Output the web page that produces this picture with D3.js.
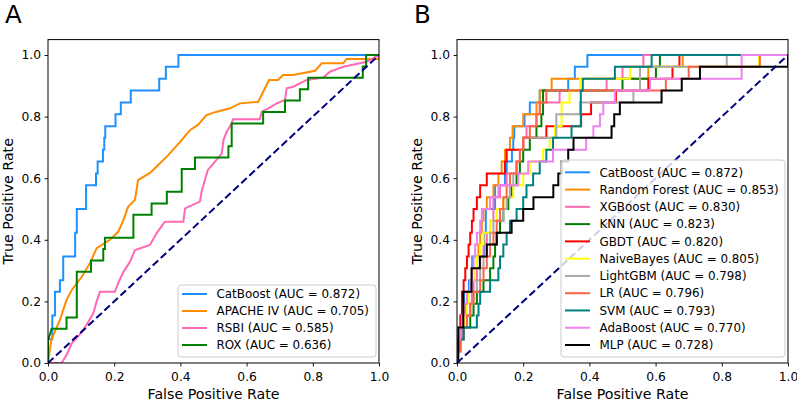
<!DOCTYPE html>
<html><head><meta charset="utf-8">
<script src="https://cdn.jsdelivr.net/npm/d3@7/dist/d3.min.js"></script>
<style>body{margin:0;background:#fff} svg{display:block} text{font-family:"DejaVu Sans",sans-serif;fill:#000}</style>
</head><body><svg id="c" width="797" height="401"></svg>
<script>
// ---------- data ----------
const tickValues = [0, 0.2, 0.4, 0.6, 0.8, 1.0];
const tickLabels = ["0.0", "0.2", "0.4", "0.6", "0.8", "1.0"];
const xLabel = "False Positive Rate";
const yLabel = "True Positive Rate";

// TPR levels of the step curves (26 positives)
const tprLevels = [0.038,0.077,0.115,0.154,0.192,0.231,0.269,0.308,0.346,0.385,0.423,0.462,0.5,
  0.538,0.577,0.615,0.654,0.692,0.731,0.769,0.808,0.846,0.885,0.923,0.962,1.0];

// FPR at which each TPR level is reached
const catboostFpr = [0,0,0.013,0.013,0.021,0.021,0.036,0.046,0.046,0.082,0.082,0.087,0.087,0.115,0.115,0.145,0.15,0.166,0.17,0.173,0.204,0.22,0.25,0.336,0.356,0.394];
const rfFpr   = [0,0.005,0.01,0.02,0.025,0.03,0.04,0.05,0.06,0.065,0.07,0.075,0.08,0.09,0.11,0.125,0.135,0.145,0.16,0.168,0.2,0.24,0.25,0.286,0.578,0.682];
const xgbFpr  = [0,0.01,0.02,0.03,0.04,0.045,0.05,0.06,0.07,0.08,0.09,0.1,0.11,0.11,0.13,0.15,0.18,0.19,0.2,0.21,0.24,0.25,0.31,0.452,0.5,0.563];
const knnFpr  = [0,0.01,0.02,0.04,0.05,0.06,0.08,0.1,0.11,0.115,0.12,0.13,0.14,0.155,0.165,0.18,0.19,0.2,0.22,0.24,0.255,0.26,0.26,0.5,0.601,0.613];
const gbdtFpr = [0,0,0.006,0.01,0.015,0.015,0.02,0.025,0.03,0.035,0.04,0.045,0.05,0.06,0.07,0.09,0.145,0.15,0.2,0.27,0.375,0.405,0.48,0.578,0.651,0.672];
const nbFpr   = [0,0.005,0.01,0.02,0.03,0.035,0.04,0.05,0.06,0.07,0.08,0.1,0.12,0.14,0.17,0.2,0.22,0.26,0.28,0.296,0.316,0.316,0.34,0.372,0.523,0.912];
const lgbmFpr = [0,0.01,0.02,0.03,0.04,0.05,0.06,0.07,0.08,0.09,0.1,0.11,0.14,0.15,0.16,0.17,0.18,0.19,0.2,0.3,0.3,0.372,0.533,0.553,0.553,0.815];
const lrFpr   = [0,0.01,0.02,0.03,0.04,0.05,0.07,0.08,0.09,0.1,0.11,0.12,0.13,0.14,0.15,0.16,0.18,0.19,0.2,0.22,0.24,0.25,0.27,0.631,0.7,0.915];
const svmFpr  = [0,0.005,0.02,0.06,0.065,0.07,0.1,0.125,0.13,0.14,0.15,0.16,0.18,0.2,0.21,0.23,0.25,0.27,0.29,0.346,0.374,0.374,0.374,0.38,0.477,0.588];
const adaFpr  = [0,0.005,0.01,0.015,0.02,0.03,0.04,0.045,0.05,0.055,0.06,0.07,0.075,0.1,0.125,0.185,0.215,0.29,0.39,0.412,0.432,0.442,0.477,0.583,0.86,0.86];
const mlpFpr  = [0.004,0.004,0.004,0.019,0.019,0.019,0.044,0.044,0.069,0.09,0.12,0.165,0.2,0.231,0.291,0.306,0.316,0.336,0.352,0.467,0.475,0.492,0.618,0.679,0.734,1.0];

// Panel A curves given as (fpr, tpr) point lists
const apacheFpr = [0,0.01,0.036,0.056,0.072,0.102,0.127,0.147,0.187,0.212,0.228,0.242,0.263,0.272,0.308,0.333,0.359,0.389,0.404,0.429,0.453,0.479,0.51,0.55,0.58,0.635,0.668,0.695,0.71,0.74,0.807,0.827,0.892,0.902,1,1];
const apacheTpr = [0,0.075,0.14,0.205,0.237,0.28,0.325,0.373,0.4,0.426,0.464,0.507,0.53,0.594,0.617,0.643,0.67,0.706,0.724,0.756,0.773,0.805,0.816,0.827,0.843,0.848,0.919,0.919,0.935,0.935,0.949,0.973,0.973,0.987,0.987,1];
const rsbiFpr = [0,0.041,0.056,0.072,0.102,0.122,0.137,0.147,0.157,0.202,0.212,0.228,0.248,0.263,0.308,0.328,0.353,0.409,0.414,0.459,0.464,0.474,0.483,0.5,0.525,0.53,0.54,0.555,0.559,0.64,0.646,0.666,0.691,0.716,0.721,0.741,0.782,0.832,0.852,0.892,0.963,1];
const rsbiTpr = [0,0,0.026,0.064,0.1,0.134,0.162,0.2,0.231,0.231,0.259,0.296,0.329,0.367,0.383,0.421,0.459,0.459,0.502,0.524,0.556,0.594,0.627,0.648,0.68,0.724,0.751,0.778,0.791,0.791,0.816,0.827,0.843,0.854,0.892,0.897,0.919,0.927,0.946,0.962,0.978,1];
const roxFpr = [0,0,0.011,0.056,0.056,0.087,0.087,0.13,0.13,0.167,0.167,0.172,0.172,0.258,0.258,0.313,0.313,0.359,0.359,0.404,0.404,0.444,0.444,0.545,0.545,0.555,0.555,0.65,0.65,0.716,0.716,0.761,0.761,0.786,0.786,0.951,0.951,0.961,0.961,1];
const roxTpr = [0,0.074,0.111,0.111,0.148,0.148,0.296,0.296,0.333,0.333,0.37,0.37,0.407,0.407,0.481,0.481,0.518,0.518,0.556,0.556,0.63,0.63,0.667,0.667,0.704,0.704,0.778,0.778,0.815,0.815,0.852,0.852,0.889,0.889,0.926,0.926,0.963,0.963,1,1];

const namesA = ["CatBoost", "APACHE IV", "RSBI", "ROX"];
const aucA = ["0.872", "0.705", "0.585", "0.636"];
const colorsA = ["#1e90ff", "#ff8c00", "#ff69b4", "#008000"];

const namesB = ["CatBoost","Random Forest","XGBoost","KNN","GBDT","NaiveBayes","LightGBM","LR","SVM","AdaBoost","MLP"];
const aucB = ["0.872","0.853","0.830","0.823","0.820","0.805","0.798","0.796","0.793","0.770","0.728"];
const colorsB = ["#1e90ff","#ff8c00","#ff69b4","#008000","#ff0000","#ffff00","#a9a9a9","#ff6347","#008080","#ee82ee","#000000"];
const fprB = [catboostFpr, rfFpr, xgbFpr, knnFpr, gbdtFpr, nbFpr, lgbmFpr, lrFpr, svmFpr, adaFpr, mlpFpr];

// ---------- drawing ----------
const svg = d3.select("#c");
const W = 331, Y0 = 363;

function stepPoints(fpr) {
  const pts = [[0, 0]];
  fpr.forEach((f, i) => pts.push([f, tprLevels[i]]));
  pts.push([1, 1]);
  return pts;
}

function panel(id, left, title, series, legend) {
  const x = d3.scaleLinear().domain([0, 1]).range([left, left + W]);
  const y = d3.scaleLinear().domain([0, 1.05]).range([Y0, Y0 - 323.4]);
  const g = svg.append("g");
  const clipId = "clip" + id;
  g.append("clipPath").attr("id", clipId).append("rect")
    .attr("x", x(0)).attr("y", y(1.05)).attr("width", W).attr("height", y(0) - y(1.05));
  const plot = g.append("g").attr("clip-path", `url(#${clipId})`);

  series.forEach(s => {
    const line = d3.line().x(d => x(d[0])).y(d => y(d[1]))
      .curve(s.step ? d3.curveStepAfter : d3.curveLinear);
    plot.append("path").attr("d", line(s.pts)).attr("fill", "none")
      .attr("stroke", s.color).attr("stroke-width", 2).attr("stroke-linejoin", "miter");
  });
  // chance diagonal
  plot.append("path")
    .attr("d", d3.line().x(d => x(d)).y(d => y(d))([0, 1]))
    .attr("stroke", "#000080").attr("stroke-width", 2).attr("stroke-dasharray", "7.5,3.5").attr("fill", "none");

  // axes
  const ax = g.append("g").attr("transform", `translate(0,${Y0})`)
    .call(d3.axisBottom(x).tickValues(tickValues).tickFormat((d, i) => tickLabels[i]).tickSize(3.5).tickPadding(6));
  const ay = g.append("g").attr("transform", `translate(${left},0)`)
    .call(d3.axisLeft(y).tickValues(tickValues).tickFormat((d, i) => tickLabels[i]).tickSize(3.5).tickPadding(3.5));
  [ax, ay].forEach(a => {
    a.select(".domain").remove();
    a.selectAll("line").attr("stroke", "#000").attr("stroke-width", 0.9);
    a.selectAll("text").style("font-family", "DejaVu Sans").style("font-size", "12.3px").attr("fill", "#000");
  });
  // frame
  g.append("rect").attr("x", x(0)).attr("y", y(1.05)).attr("width", W).attr("height", y(0) - y(1.05))
    .attr("fill", "none").attr("stroke", "#000").attr("stroke-width", 1);

  // labels
  g.append("text").attr("x", x(0.5)).attr("y", 398.5).attr("text-anchor", "middle")
    .style("font-size", "14.2px").text(xLabel);
  g.append("text").attr("transform", `translate(${left - 35},${(Y0 + y(1.05)) / 2}) rotate(-90)`)
    .attr("text-anchor", "middle").style("font-size", "14.2px").text(yLabel);
  g.append("text").attr("x", left - 43).attr("y", 23).style("font-size", "24.5px").text(title);

  // legend
  const lg = g.append("g");
  lg.append("rect").attr("x", legend.x0).attr("y", legend.y0).attr("width", legend.x1 - legend.x0)
    .attr("height", legend.y1 - legend.y0).attr("rx", 3)
    .attr("fill", "#fff").attr("fill-opacity", 0.8).attr("stroke", "#cccccc").attr("stroke-width", 1);
  series.forEach((s, i) => {
    const yy = legend.first + i * legend.step;
    lg.append("line").attr("x1", legend.x0 + 4).attr("x2", legend.x0 + 29).attr("y1", yy).attr("y2", yy)
      .attr("stroke", s.color).attr("stroke-width", 2);
    lg.append("text").attr("x", legend.x0 + 38.5).attr("y", yy).attr("dy", "0.36em")
      .style("font-size", "11.9px").text(`${s.name} (AUC = ${s.auc})`);
  });
}

// panel A
const ptsA = [
  stepPoints(catboostFpr),
  apacheFpr.map((f, i) => [f, apacheTpr[i]]),
  rsbiFpr.map((f, i) => [f, rsbiTpr[i]]),
  roxFpr.map((f, i) => [f, roxTpr[i]])
];
panel("A", 48, "A", namesA.map((n, i) => ({ name: n, auc: aucA[i], color: colorsA[i], pts: ptsA[i], step: i === 0 })),
  { x0: 178, x1: 376, y0: 285, y1: 357, first: 294, step: 17 });

// panel B
panel("B", 457, "B", namesB.map((n, i) => ({ name: n, auc: aucB[i], color: colorsB[i], pts: stepPoints(fprB[i]), step: true })),
  { x0: 561, x1: 785, y0: 160, y1: 357, first: 172.3, step: 17.27 });
</script></body></html>
